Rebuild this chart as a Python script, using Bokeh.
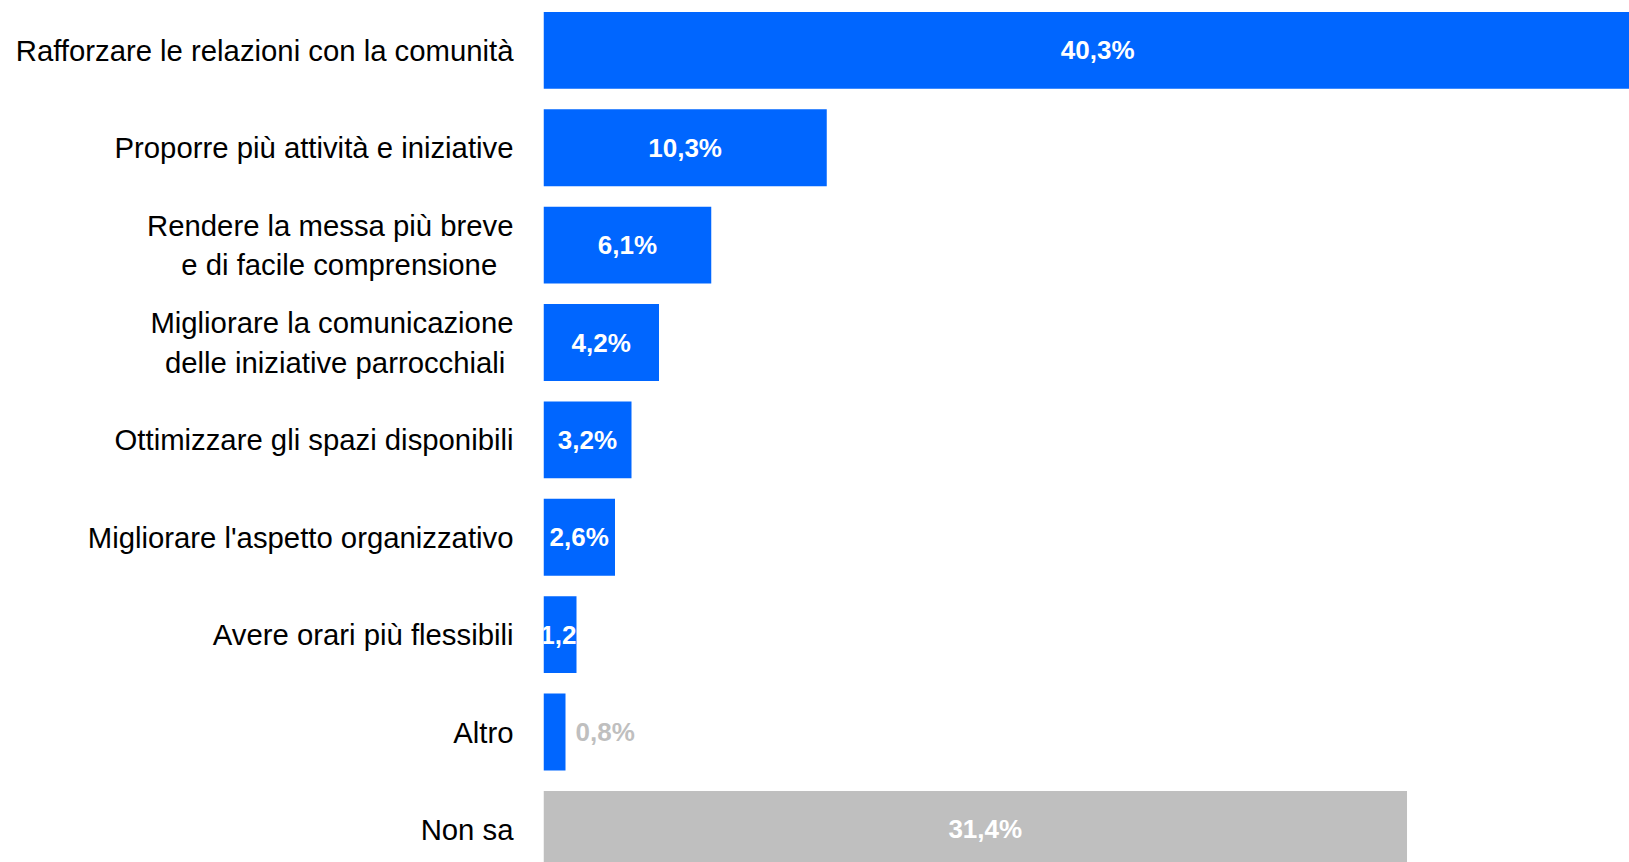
from bokeh.plotting import figure
from bokeh.models import ColumnDataSource, Range1d, LinearAxis, FixedTicker
from bokeh.embed import file_html
from bokeh.resources import INLINE

NBSP = "\u00a0"
categories = [
    "Rafforzare le relazioni con la comunità",
    "Proporre più attività e iniziative",
    "Rendere la messa più breve\ne di facile comprensione" + NBSP * 2,
    "Migliorare la comunicazione\ndelle iniziative parrocchiali" + NBSP,
    "Ottimizzare gli spazi disponibili",
    "Migliorare l'aspetto organizzativo",
    "Avere orari più flessibili",
    "Altro",
    "Non sa",
]
values = [40.3, 10.3, 6.1, 4.2, 3.2, 2.6, 1.2, 0.8, 31.4]
value_labels = ["40,3%", "10,3%", "6,1%", "4,2%", "3,2%", "2,6%", "1,2%", "0,8%", "31,4%"]

BLUE = "#0066FF"
GRAY = "#BFBFBF"
bar_colors = [BLUE] * 8 + [GRAY]
label_colors = ["#FFFFFF"] * 7 + [GRAY, "#FFFFFF"]
outside = [False] * 7 + [True, False]
label_dx = [0, 0, 0, 0, 0, 0, 10, 10, 10]

pos = list(range(len(categories)))
label_x = [v if o else v / 2 for v, o in zip(values, outside)]
label_align = ["left" if o else "center" for o in outside]

src = ColumnDataSource(dict(
    y=pos, v=values, color=bar_colors, lx=label_x, lab=value_labels,
    lcol=label_colors, lalign=label_align, lxoff=label_dx,
))

p = figure(width=1629, height=862, output_backend="svg", toolbar_location=None,
           x_range=Range1d(0, 39.49), y_range=Range1d(8.340, -0.5125),
           x_axis_location=None, y_axis_location=None,
           min_border_left=543, min_border_right=0, min_border_top=0, min_border_bottom=0)
p.outline_line_color = None
p.grid.visible = False
p.background_fill_color = "white"
p.border_fill_color = "white"

p.hbar(y="y", left=0, right="v", height=0.79, fill_color="color", line_color=None, source=src)

p.text(x="lx", y="y", text="lab", text_color="lcol", text_align="lalign",
       x_offset="lxoff", text_baseline="middle", text_font_size="26px",
       text_font_style="bold", text_font={"value": "Liberation Sans"}, source=src)

yaxis = LinearAxis(ticker=FixedTicker(ticks=pos))
yaxis.major_label_overrides = {i: c for i, c in zip(pos, categories)}
yaxis.axis_line_color = None
yaxis.major_tick_line_color = None
yaxis.minor_tick_line_color = None
yaxis.major_tick_in = 0
yaxis.major_tick_out = 0
yaxis.major_label_standoff = 30
yaxis.major_label_text_font = "Liberation Sans"
yaxis.major_label_text_font_size = "29.3px"
yaxis.major_label_text_color = "#000000"
p.add_layout(yaxis, "left")

open("out.html", "w").write(file_html(p, INLINE))
